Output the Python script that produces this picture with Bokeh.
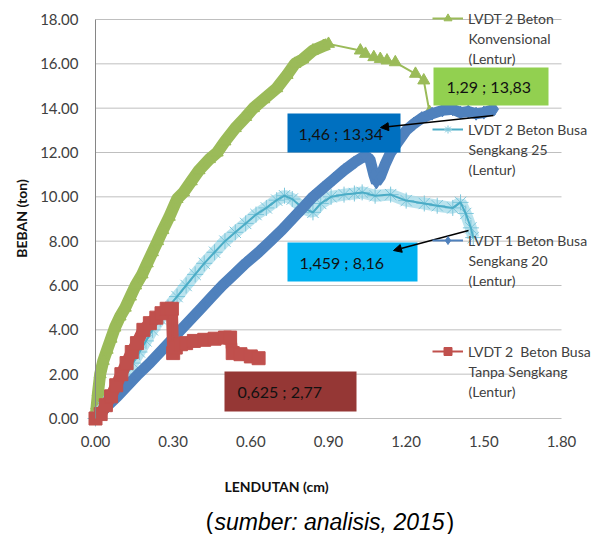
from bokeh.plotting import figure
from bokeh.models import (Range1d, FixedTicker, NumeralTickFormatter, Label, BoxAnnotation,
                          Arrow, NormalHead, Legend, LegendItem)
from bokeh.embed import file_html
from bokeh.resources import INLINE

# ---------------- data ----------------
x_ticks = [0.0, 0.3, 0.6, 0.9, 1.2, 1.5, 1.8]
y_ticks = [0, 2, 4, 6, 8, 10, 12, 14, 16, 18]

# LVDT 2 Beton Konvensional (Lentur)
gk_x = [0.000, 0.005, 0.010, 0.018, 0.030, 0.045, 0.060, 0.075, 0.095, 0.115, 0.135, 0.155,
        0.180, 0.200, 0.220, 0.240, 0.260, 0.285, 0.315, 0.340, 0.370, 0.400, 0.440, 0.470,
        0.500, 0.540, 0.580, 0.610, 0.650, 0.700, 0.740, 0.770, 0.800, 0.840, 0.880, 0.900,
        1.023, 1.043, 1.075, 1.100, 1.126, 1.158, 1.236, 1.268, 1.290]
gk_y = [0.00, 0.60, 1.20, 2.00, 2.60, 3.10, 3.60, 4.10, 4.60, 5.00, 5.50, 6.00,
        6.50, 7.00, 7.50, 8.00, 8.50, 9.10, 9.90, 10.20, 10.70, 11.20, 11.70, 12.00,
        12.50, 13.10, 13.60, 14.00, 14.40, 14.90, 15.50, 16.00, 16.20, 16.60, 16.80, 16.90,
        16.60, 16.45, 16.30, 16.22, 16.15, 16.07, 15.55, 15.25, 13.83]

# LVDT 2 Beton Busa Sengkang 25 (Lentur)
s25_x = [0.000, 0.030, 0.060, 0.090, 0.120, 0.145, 0.170, 0.195, 0.220, 0.250, 0.280, 0.315,
         0.350, 0.385, 0.420, 0.460, 0.500, 0.540, 0.580, 0.620, 0.660, 0.700, 0.730, 0.760,
         0.800, 0.840, 0.870, 0.910, 0.960, 1.000, 1.030, 1.080, 1.140, 1.200, 1.270, 1.320,
         1.380, 1.410, 1.430, 1.450, 1.459]
s25_y = [0.00, 0.50, 1.00, 1.50, 2.00, 2.50, 3.00, 3.50, 4.00, 4.50, 5.00, 5.50,
         6.00, 6.50, 7.00, 7.50, 8.00, 8.40, 8.80, 9.20, 9.50, 9.85, 10.05, 9.90,
         9.50, 9.30, 9.70, 10.00, 10.10, 10.15, 10.20, 10.05, 10.10, 9.83, 9.70, 9.60,
         9.50, 9.75, 9.25, 8.60, 8.16]

# LVDT 1 Beton Busa Sengkang 20 (Lentur)
s20_x = [0.000, 0.040, 0.085, 0.125, 0.165, 0.210, 0.250, 0.290, 0.330, 0.370, 0.410, 0.450,
         0.490, 0.535, 0.580, 0.630, 0.675, 0.720, 0.760, 0.800, 0.840, 0.880, 0.920, 0.960,
         1.000, 1.040, 1.060, 1.075, 1.085, 1.100, 1.120, 1.140, 1.170, 1.200, 1.230, 1.260,
         1.300, 1.340, 1.380, 1.410, 1.440, 1.470, 1.500, 1.540]
s20_y = [0.00, 0.50, 1.00, 1.50, 2.00, 2.50, 3.00, 3.50, 4.00, 4.50, 5.00, 5.50,
         6.00, 6.50, 7.00, 7.50, 8.00, 8.50, 9.00, 9.50, 10.00, 10.40, 10.80, 11.20,
         11.55, 11.85, 11.70, 11.00, 10.65, 10.90, 11.50, 12.00, 12.50, 13.00, 13.30, 13.55,
         13.75, 13.90, 13.95, 13.80, 13.85, 13.75, 13.80, 13.95]

# LVDT 2 Beton Busa Tanpa Sengkang (Lentur)
ts_x = [0.000, 0.020, 0.040, 0.060, 0.080, 0.100, 0.120, 0.140, 0.160, 0.185, 0.210, 0.235,
        0.255, 0.275, 0.295, 0.300, 0.310, 0.330, 0.350, 0.380, 0.420, 0.460, 0.500, 0.520,
        0.530, 0.560, 0.600, 0.630]
ts_y = [0.00, 0.20, 0.60, 1.00, 1.50, 2.00, 2.50, 3.00, 3.40, 4.00, 4.30, 4.55,
        4.75, 4.95, 4.95, 2.95, 3.20, 3.35, 3.40, 3.50, 3.55, 3.60, 3.65, 3.65,
        2.95, 2.90, 2.80, 2.72]

legend_lines = [["LVDT 2 Beton", "Konvensional", "(Lentur)"],
                ["LVDT 2 Beton Busa", "Sengkang 25", "(Lentur)"],
                ["LVDT 1 Beton Busa", "Sengkang 20", "(Lentur)"],
                ["LVDT 2  Beton Busa", "Tanpa Sengkang", "(Lentur)"]]
note_texts = ["1,29 ; 13,83", "1,46 ; 13,34", "1,459 ; 8,16", "0,625 ; 2,77"]

# ---------------- layout: picture-pixel anchors of the plot area ----------------
W, H = 601, 534
AX_L, AX_R = 95, 561           # px of x = 0 and x = 1.8
AX_B, AX_T = 418, 19           # px of y = 0 and y = 18
kx = (AX_R - AX_L) / x_ticks[-1]
ky = (AX_B - AX_T) / y_ticks[-1]
x_range = Range1d(-AX_L / kx, (W - AX_L) / kx)
y_range = Range1d((AX_B - H) / ky, AX_B / ky)


def sx(px):                    # picture px -> frame screen units
    return px


def sy(py):
    return H - py


GREEN, AQUA, BLUE, RED = "#9BBB59", "#4BACC6", "#4F81BD", "#C0504D"
FONT = "Lato"
TXT = "#404040"

p = figure(width=W, height=H, output_backend="svg", toolbar_location=None,
           x_range=x_range, y_range=y_range, min_border=0)
p.outline_line_color = None
p.background_fill_color = "white"
p.border_fill_color = "white"
p.xgrid.visible = False
p.ygrid.visible = False

p.xaxis.ticker = FixedTicker(ticks=x_ticks)
p.yaxis.ticker = FixedTicker(ticks=y_ticks)
p.xaxis.fixed_location = 0
p.yaxis.fixed_location = 0
p.xaxis.bounds = (x_ticks[0], x_ticks[-1])
p.yaxis.bounds = (y_ticks[0], y_ticks[-1])
for ax in (p.xaxis, p.yaxis):
    ax.formatter = NumeralTickFormatter(format="0.00")
    ax.major_tick_line_color = None
    ax.minor_tick_line_color = None
    ax.major_label_text_font = FONT
    ax.major_label_text_font_size = "15px"
    ax.major_label_text_color = TXT
p.xaxis.axis_line_color = None
p.yaxis.axis_line_color = "#868686"
p.xaxis.major_label_standoff = 11
p.yaxis.major_label_standoff = 11

# horizontal gridlines across the plot area only
p.segment(x0=[x_ticks[0]] * len(y_ticks), y0=y_ticks, x1=[x_ticks[-1]] * len(y_ticks),
          y1=y_ticks, line_color="#BFBFBF", line_width=1)

# Konvensional: dense band up to the peak, then thin line with markers
peak = gk_y.index(max(gk_y))
p.line(gk_x[:peak + 1], gk_y[:peak + 1], line_color=GREEN, line_width=12)
g_line = p.line(gk_x, gk_y, line_color=GREEN, line_width=2)
g_pts = p.scatter(gk_x, gk_y, marker="triangle", size=12, fill_color=GREEN, line_color=GREEN)

# Sengkang 25: hairy band
p.line(s25_x, s25_y, line_color="#A9DCEA", line_width=12, line_alpha=0.8)
a_pts = p.scatter(s25_x, s25_y, marker="asterisk", size=16, line_color="#7CC6DB", line_width=1)
a_line = p.line(s25_x, s25_y, line_color=AQUA, line_width=2)

# Sengkang 20
p.line(s20_x, s20_y, line_color=BLUE, line_width=11)
b_line = p.line(s20_x, s20_y, line_color=BLUE, line_width=2)
b_pts = p.scatter(s20_x, s20_y, marker="diamond", size=13, fill_color=BLUE, line_color=BLUE)

# Tanpa Sengkang
p.line(ts_x, ts_y, line_color=RED, line_width=12)
r_line = p.line(ts_x, ts_y, line_color=RED, line_width=2)
r_pts = p.scatter(ts_x, ts_y, marker="square", size=13, fill_color=RED, line_color=RED)

# legend: glyph + first line from Legend, further lines as labels
LEG_X, LEG_TOP, ITEM_H, ITEM_GAP, LINE_H = 432, 8, 20, 91, 20
legend = Legend(items=[LegendItem(label=legend_lines[0][0], renderers=[g_line, g_pts]),
                       LegendItem(label=legend_lines[1][0], renderers=[a_line, a_pts]),
                       LegendItem(label=legend_lines[2][0], renderers=[b_line, b_pts]),
                       LegendItem(label=legend_lines[3][0], renderers=[r_line, r_pts])],
                location=(sx(LEG_X), sy(LEG_TOP + 4 * ITEM_H + 3 * ITEM_GAP)),
                glyph_width=31, glyph_height=ITEM_H, label_height=ITEM_H,
                label_standoff=5, spacing=ITEM_GAP, padding=0, margin=0,
                border_line_alpha=0, background_fill_alpha=0,
                label_text_font=FONT, label_text_font_size="14px", label_text_color=TXT)
p.add_layout(legend)
for i, lines in enumerate(legend_lines):
    y0 = LEG_TOP + ITEM_H / 2 + i * (ITEM_H + ITEM_GAP)
    for j, line in enumerate(lines[1:], start=1):
        p.add_layout(Label(x=sx(LEG_X + 36), y=sy(y0 + j * LINE_H), x_units="screen",
                           y_units="screen", text=line, text_font=FONT, text_font_size="14px",
                           text_color=TXT, text_align="left", text_baseline="middle"))

# value call-out boxes (px: left, right, top, bottom, text-left)
boxes = [(433, 548, 67, 105, "#92D050", 446),
         (287, 400, 113, 152, "#0070C0", 298),
         (287, 417, 242, 281, "#00B0F0", 299),
         (224, 356, 371, 411, "#953735", 237)]
for (l, r, t, b, c, tx), txt in zip(boxes, note_texts):
    p.add_layout(BoxAnnotation(left=sx(l), right=sx(r), top=sy(t), bottom=sy(b),
                               left_units="screen", right_units="screen",
                               top_units="screen", bottom_units="screen",
                               fill_color=c, fill_alpha=1, line_alpha=0))
    p.add_layout(Label(x=sx(tx), y=sy((t + b) / 2), x_units="screen", y_units="screen",
                       text=txt, text_font=FONT, text_font_size="16px",
                       text_color="#111111", text_align="left", text_baseline="middle"))

# arrows from the curve ends to their call-outs (px)
for (x0, y0, x1, y1) in [(493, 115, 380, 127), (468, 230, 393, 250)]:
    p.add_layout(Arrow(x_start=sx(x0), y_start=sy(y0), x_end=sx(x1), y_end=sy(y1),
                       start_units="screen", end_units="screen",
                       line_width=1.3, line_color="black",
                       end=NormalHead(size=8, fill_color="black", line_color="black")))

# axis titles and source caption
p.add_layout(Label(x=sx(276), y=sy(486), x_units="screen", y_units="screen",
                   text="LENDUTAN (cm)", text_font=FONT, text_font_size="14px",
                   text_font_style="bold", text_color="#111111",
                   text_align="center", text_baseline="middle"))
p.add_layout(Label(x=sx(21), y=sy(218), x_units="screen", y_units="screen",
                   text="BEBAN (ton)", angle=1.5708, text_font=FONT, text_font_size="14px",
                   text_font_style="bold", text_color="#111111",
                   text_align="center", text_baseline="middle"))
CAP_Y = 521
p.add_layout(Label(x=sx(329), y=sy(CAP_Y), x_units="screen", y_units="screen",
                   text="sumber: analisis, 2015", text_font="Liberation Sans",
                   text_font_size="23px", text_font_style="italic", text_color="black",
                   text_align="center", text_baseline="alphabetic"))
p.add_layout(Label(x=sx(213), y=sy(CAP_Y), x_units="screen", y_units="screen", text="(",
                   text_font="Liberation Sans", text_font_size="23px", text_color="black",
                   text_align="right", text_baseline="alphabetic"))
p.add_layout(Label(x=sx(446), y=sy(CAP_Y), x_units="screen", y_units="screen", text=")",
                   text_font="Liberation Sans", text_font_size="23px", text_color="black",
                   text_align="left", text_baseline="alphabetic"))

open("out.html", "w").write(file_html(p, INLINE))
